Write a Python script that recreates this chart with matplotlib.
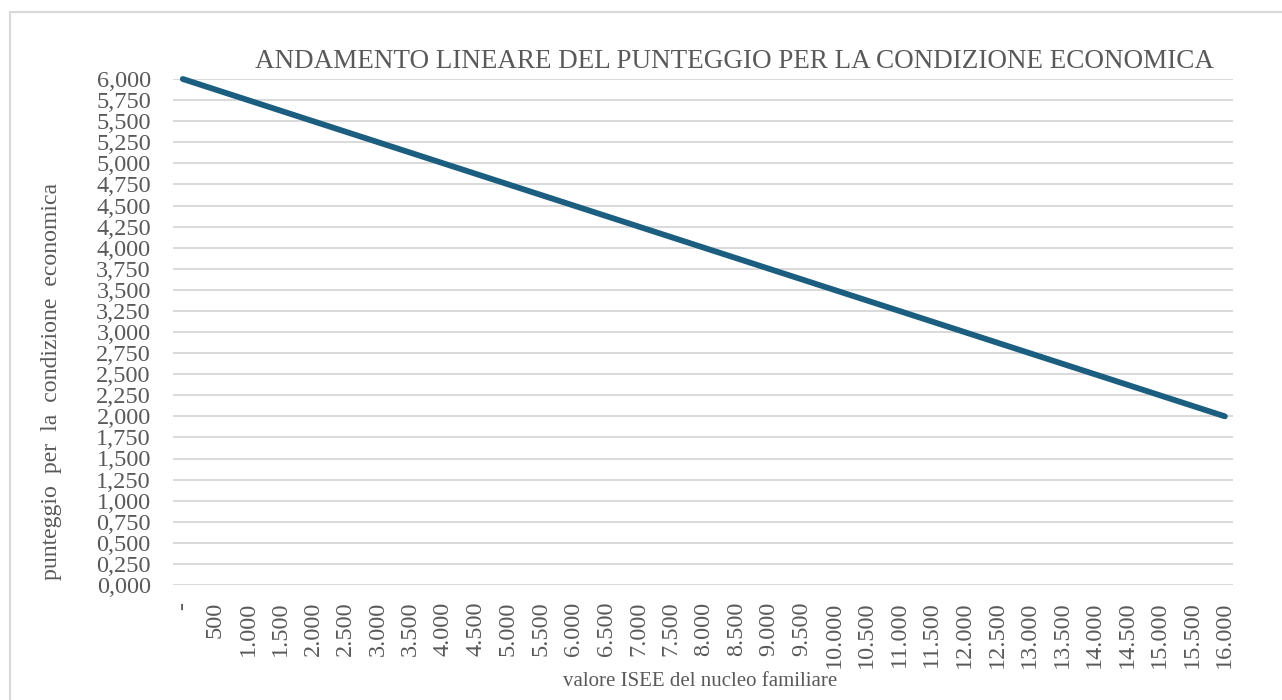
import matplotlib
matplotlib.use("Agg")
import matplotlib.pyplot as plt
from matplotlib.patches import Rectangle
from matplotlib.ticker import FuncFormatter

# ---- data ----
isee_labels = ["-", "500", "1.000", "1.500", "2.000", "2.500", "3.000", "3.500",
               "4.000", "4.500", "5.000", "5.500", "6.000", "6.500", "7.000",
               "7.500", "8.000", "8.500", "9.000", "9.500", "10.000", "10.500",
               "11.000", "11.500", "12.000", "12.500", "13.000", "13.500",
               "14.000", "14.500", "15.000", "15.500", "16.000"]
punteggio = [6.000, 5.875, 5.750, 5.625, 5.500, 5.375, 5.250, 5.125,
             5.000, 4.875, 4.750, 4.625, 4.500, 4.375, 4.250, 4.125,
             4.000, 3.875, 3.750, 3.625, 3.500, 3.375, 3.250, 3.125,
             3.000, 2.875, 2.750, 2.625, 2.500, 2.375, 2.250, 2.125,
             2.000]
y_ticks = [0.0, 0.25, 0.5, 0.75, 1.0, 1.25, 1.5, 1.75, 2.0, 2.25, 2.5, 2.75,
           3.0, 3.25, 3.5, 3.75, 4.0, 4.25, 4.5, 4.75, 5.0, 5.25, 5.5, 5.75, 6.0]

title = "ANDAMENTO LINEARE DEL PUNTEGGIO PER LA CONDIZIONE ECONOMICA"
ylabel = "punteggio  per  la  condizione  economica"
xlabel = "valore ISEE del nucleo familiare"

FONT = "Liberation Serif"
GRAY = "#595959"
LINE = "#1b5e80"

W, H = 1282, 700
fig = plt.figure(figsize=(W / 100, H / 100), dpi=100)
fig.patch.set_facecolor("white")

# chart border
fig.patches.append(Rectangle((10 / W, -0.05), 1.2, 1 - 12 / H + 0.05,
                             transform=fig.transFigure, fill=False,
                             edgecolor="#d9d9d9", linewidth=1.5))

left, right = 173 / W, 1233 / W
bottom, top = 1 - 585 / H, 1 - 79 / H
ax = fig.add_axes([left, bottom, right - left, top - bottom])

x = list(range(len(isee_labels)))
ax.plot(x, punteggio, color=LINE, linewidth=4.2, solid_capstyle="round",
        clip_on=False, zorder=3)

ax.set_xlim(-0.3, len(isee_labels) - 1 + 0.25)
ax.set_ylim(0, 6)
ax.set_yticks(y_ticks)
ax.yaxis.set_major_formatter(FuncFormatter(lambda v, p: f"{v:.3f}".replace(".", ",")))
ax.set_xticks(x)
ax.set_xticklabels(isee_labels, rotation=90, va="top", ha="center")

ax.grid(axis="y", color="#d9d9d9", linewidth=1.4)
ax.set_axisbelow(True)
for s in ax.spines.values():
    s.set_visible(False)
ax.tick_params(axis="both", length=0, colors=GRAY, labelsize=17.5)
ax.tick_params(axis="y", pad=16)
ax.tick_params(axis="x", pad=12)
for lab in ax.get_xticklabels() + ax.get_yticklabels():
    lab.set_fontfamily(FONT)
    lab.set_color(GRAY)

# title fitted to reference width
t = fig.text(734 / W, 1 - 61 / H, title, ha="center", va="center",
             fontfamily=FONT, color=GRAY, fontsize=18)
yl = fig.text(52 / W, 1 - 381 / H, ylabel, rotation=90, ha="center", va="center",
              fontfamily=FONT, color=GRAY, fontsize=17)
fig.canvas.draw()
bb = t.get_window_extent()
t.set_fontsize(18 * 962 / bb.width)
bb = yl.get_window_extent()
yl.set_fontsize(17 * 398 / bb.height)

fig.text(700 / W, 1 - 681 / H, xlabel, ha="center", va="center",
         fontfamily=FONT, color=GRAY, fontsize=15)

fig.savefig("out.png", dpi=100)
